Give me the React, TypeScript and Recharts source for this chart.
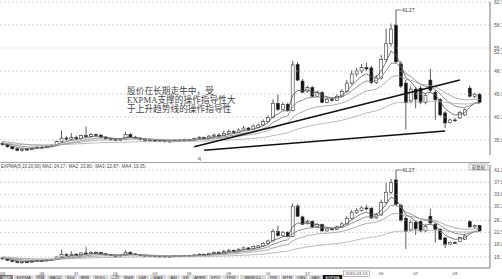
import React from 'react';
import { ComposedChart, Bar, Line, XAxis, YAxis, ReferenceLine, ReferenceDot } from 'recharts';

// daily candles (price units of the lower panel)
const opens = [14.9,14.6,14.2,13.8,13.5,13.7,13.6,13.9,14.1,14.0,14.3,14.5,15.2,15.9,15.7,16.0,15.8,16.4,16.2,16.6,16.5,16.1,15.8,15.6,15.5,15.7,16.6,16.1,15.9,15.6,15.4,15.5,15.3,15.4,15.2,15.3,15.5,15.4,15.6,15.5,15.8,16.0,15.9,16.3,16.5,16.4,16.8,17.2,17.0,17.5,17.9,17.6,18.0,18.5,19.2,20.0,22.8,21.6,22.6,21.4,30.5,27.2,25.2,25.9,24.2,24.9,23.0,23.6,23.4,24.2,25.1,26.8,28.6,29.2,29.9,29.8,26.9,27.8,31.5,34.6,38.3,30.6,26.8,23.3,25.6,25.8,23.0,27.4,25.0,23.5,20.9,19.0,19.5,19.9,20.5,25.8,24.2,24.6];
const highs = [15.1,14.8,14.3,14.0,13.9,13.9,14.1,14.3,14.3,14.5,14.7,15.4,17.4,16.3,16.9,16.4,16.6,18.2,16.9,16.8,16.7,16.3,16.0,15.8,15.9,17.2,16.9,16.3,16.1,15.8,15.7,15.7,15.6,15.6,15.5,15.7,15.7,15.8,15.8,16.0,16.3,16.2,16.5,16.8,16.9,17.4,17.6,17.5,17.8,18.3,18.1,18.6,18.8,19.6,20.4,23.6,24.6,23.0,22.9,31.2,31.0,27.6,26.3,26.2,25.3,25.2,23.9,24.0,24.6,25.6,27.4,29.3,29.8,30.6,30.8,30.2,28.4,32.4,37.6,38.6,41.27,31.2,27.4,26.2,26.0,26.2,24.8,29.6,25.4,23.8,21.2,19.8,19.9,21.3,21.8,26.3,24.9,24.8];
const lows = [14.4,14.0,13.6,13.3,13.2,13.4,13.5,13.8,13.8,13.9,14.2,14.4,15.0,15.4,15.5,15.6,15.6,16.0,16.0,16.2,15.9,15.6,15.4,15.3,15.3,15.6,15.9,15.7,15.4,15.2,15.2,15.1,15.1,15.0,15.0,15.1,15.2,15.2,15.3,15.4,15.6,15.7,15.8,16.1,16.2,16.3,16.6,16.8,16.9,17.3,17.4,17.5,17.8,18.3,19.0,19.8,21.3,21.4,21.1,21.2,27.2,24.8,24.9,24.0,24.0,22.8,22.8,23.1,23.3,24.0,24.9,26.5,28.1,28.8,29.2,26.6,26.6,27.5,31.0,34.0,30.6,25.8,17.6,22.8,21.8,22.6,22.6,25.0,19.5,20.2,17.9,18.8,19.1,19.7,20.3,24.0,23.8,22.8];
const closes = [14.6,14.2,13.8,13.5,13.7,13.6,13.9,14.1,14.0,14.3,14.5,15.2,15.9,15.7,16.0,15.8,16.4,16.2,16.6,16.5,16.1,15.8,15.6,15.5,15.7,16.6,16.1,15.9,15.6,15.4,15.5,15.3,15.4,15.2,15.3,15.5,15.4,15.6,15.5,15.8,16.0,15.9,16.3,16.5,16.4,16.8,17.2,17.0,17.5,17.9,17.6,18.3,18.5,19.2,20.0,22.8,21.6,22.6,21.4,30.4,27.4,25.0,25.9,24.2,24.9,23.0,23.6,23.4,24.2,25.1,26.8,28.6,29.2,29.9,29.6,26.9,27.8,31.5,34.6,37.5,31.0,26.2,22.9,25.6,23.6,23.0,24.4,25.4,23.5,20.5,18.9,19.5,19.4,21.0,21.5,24.2,24.6,23.0];

const expma5 = [14.73,14.55,14.30,14.03,13.92,13.81,13.84,13.93,13.95,14.07,14.21,14.54,14.99,15.23,15.49,15.59,15.86,15.97,16.18,16.29,16.23,16.09,15.93,15.79,15.76,16.04,16.06,16.01,15.87,15.71,15.64,15.53,15.49,15.39,15.36,15.41,15.41,15.47,15.48,15.59,15.73,15.79,15.96,16.14,16.23,16.42,16.68,16.79,17.03,17.32,17.41,17.71,17.97,18.38,18.92,20.21,20.67,21.31,21.34,24.36,25.37,25.25,25.47,25.05,25.00,24.33,24.09,23.86,23.97,24.35,25.17,26.31,27.27,28.15,28.63,28.05,27.97,29.15,30.97,33.15,32.43,30.35,27.87,27.11,25.94,24.96,24.77,24.98,24.49,23.16,21.74,20.99,20.46,20.64,20.93,22.02,22.88,22.92];
const expma10 = [14.93,14.80,14.62,14.42,14.29,14.17,14.12,14.12,14.10,14.14,14.20,14.38,14.65,14.84,15.05,15.19,15.41,15.55,15.74,15.88,15.92,15.90,15.84,15.78,15.77,15.92,15.95,15.94,15.88,15.79,15.74,15.66,15.61,15.54,15.50,15.50,15.48,15.50,15.50,15.55,15.63,15.68,15.79,15.92,16.01,16.15,16.34,16.46,16.65,16.87,17.00,17.24,17.46,17.78,18.18,19.01,19.48,20.04,20.29,22.11,23.06,23.41,23.86,23.92,24.10,23.90,23.85,23.77,23.84,24.07,24.56,25.29,25.99,26.70,27.22,27.16,27.28,28.04,29.22,30.71,30.76,29.94,28.67,28.12,27.31,26.53,26.15,26.01,25.56,24.65,23.62,22.88,22.25,22.03,21.93,22.34,22.75,22.79];
const expma20 = [15.23,15.13,15.01,14.86,14.75,14.64,14.57,14.53,14.48,14.46,14.46,14.53,14.66,14.76,14.88,14.97,15.10,15.21,15.34,15.45,15.51,15.54,15.54,15.54,15.56,15.66,15.70,15.72,15.71,15.68,15.66,15.63,15.61,15.57,15.54,15.54,15.53,15.53,15.53,15.56,15.60,15.63,15.69,15.77,15.83,15.92,16.04,16.13,16.26,16.42,16.53,16.70,16.87,17.09,17.37,17.89,18.24,18.65,18.91,20.00,20.70,21.11,21.57,21.82,22.11,22.20,22.33,22.43,22.60,22.84,23.21,23.72,24.24,24.78,25.24,25.40,25.62,26.18,26.98,27.98,28.27,28.07,27.58,27.39,27.03,26.65,26.43,26.33,26.06,25.53,24.90,24.39,23.92,23.64,23.44,23.51,23.61,23.55];
const expma60 = [14.79,14.77,14.74,14.70,14.67,14.63,14.61,14.59,14.57,14.56,14.56,14.58,14.62,14.66,14.70,14.74,14.79,14.84,14.90,14.95,14.99,15.02,15.04,15.05,15.07,15.12,15.15,15.18,15.19,15.20,15.21,15.21,15.22,15.22,15.22,15.23,15.24,15.25,15.26,15.27,15.30,15.32,15.35,15.39,15.42,15.47,15.52,15.57,15.64,15.71,15.77,15.86,15.94,16.05,16.18,16.40,16.57,16.77,16.92,17.37,17.70,17.94,18.20,18.40,18.61,18.76,18.92,19.07,19.24,19.43,19.67,19.97,20.27,20.59,20.89,21.09,21.31,21.65,22.08,22.59,22.87,22.98,22.98,23.07,23.09,23.08,23.13,23.20,23.21,23.12,22.98,22.87,22.75,22.70,22.66,22.71,22.77,22.78];

// axis ticks
const upperTicks = [42.86, 38.3, 33.75, 32.96, 29.2, 24.64, 20.09, 15.54];
const upperTickLabels = ['62.93', '58.70', '55.48', '52.18', '48.73', '45.00', '40.26', '35.82'];
const upperGrid = [42.86, 38.3, 33.75, 29.2, 24.64, 20.09, 15.54];
const lowerTicks = [41.27, 37.57, 33.87, 30.26, 26.18, 22.58, 18.88, 15.18];
const monthTicks = [0, 8, 15, 23, 31, 38, 46, 54, 62, 72, 77, 84, 92];
const monthLabels = ['08', '09', '11', '01', '03', '05', '08', '10', '12', '2015-03-13', '05', '07', '09'];

const peakIndex = 80;
const peakValue = 41.27;
const trendUp = [{ x: 39, y: 14.2 }, { x: 93, y: 27.4 }];
const trendLow = [{ x: 41, y: 13.5 }, { x: 90, y: 17.3 }];

const note = ['股价在长期走牛中，受', 'EXPMA支撑的操作指导性大', '于上升趋势线的操作指导性'];
const legendText = 'EXPMA(5,10,20,60) MA1: 24.17↑  MA2: 23.80↑  MA3: 22.87↑  MA4: 19.35↑';
const tabs = ['SAR', 'EXPMA', '均线', 'MACD', 'KDJ', 'BRB', 'ROLL', '二升', 'W&R', 'DMI', 'BIAS', 'ASI', 'VR', 'ARBR', 'DPO', 'TRIX', 'BBIBOLL', 'RSI', 'MTM', 'OBV', 'SAR', 'EXPMA'];

const data = closes.map((c, i) => ({
  i,
  o: opens[i],
  h: highs[i],
  l: lows[i],
  c,
  range: [lows[i], highs[i]],
  e5: expma5[i],
  e10: expma10[i],
  e20: expma20[i],
  e60: expma60[i],
}));

const Candle = (props: any) => {
  const { x, y, width, height, payload } = props;
  const { o, c, h, l } = payload;
  const cx = x + width / 2;
  const span = h - l || 1;
  const py = (v: number) => y + ((h - v) / span) * height;
  const top = Math.min(py(o), py(c));
  const bot = Math.max(py(o), py(c));
  const up = c >= o;
  return (
    <g>
      <line x1={cx} x2={cx} y1={py(h)} y2={py(l)} stroke="#333" strokeWidth={0.8} />
      <rect x={cx - 1.5} y={top} width={3} height={Math.max(bot - top, 0.8)} fill={up ? '#fff' : '#111'} stroke="#333" strokeWidth={0.6} />
    </g>
  );
};

const lineColors = ['#555', '#777', '#999', '#aaa'];
const lineKeys = ['e5', 'e10', 'e20', 'e60'];

const PeakMark = (props: any) => {
  const { cx, cy } = props;
  return (
    <g>
      <line x1={cx} x2={cx + 5} y1={cy} y2={cy} stroke="#333" strokeWidth={0.6} />
      <text x={cx + 6} y={cy + 1.8} fontSize={5} fill="#333" fontFamily="Arial, sans-serif">{peakValue.toFixed(2)}</text>
    </g>
  );
};

const MonthTick = (props: any) => {
  const { x, y, payload } = props;
  const label = monthLabels[monthTicks.indexOf(payload.value)];
  const boxed = label && label.length > 4;
  return (
    <g>
      {boxed && <rect x={x - 13} y={y + 1} width={26} height={5.5} fill="#fff" stroke="#777" strokeWidth={0.5} />}
      <text x={x} y={y + 4.9} textAnchor="middle" fontSize={4.2} fill="#444" fontFamily="Arial, sans-serif">{label}</text>
    </g>
  );
};

const tickStyle = { fontSize: 5, fill: '#555', fontFamily: 'Arial, sans-serif' };

function Overlay() {
  let cursor = 0;
  const tabItems = tabs.map((t, k) => {
    const w = Array.from(t).reduce((s, ch) => s + (ch.charCodeAt(0) > 255 ? 4.4 : 3.3), 0) + 3;
    const x0 = cursor;
    cursor += w + 1;
    const dark = k === tabs.length - 1;
    const mid = k === 0;
    return (
      <g key={k}>
        <rect x={x0} y={275} width={w} height={6} fill={dark ? '#111' : mid ? '#777' : '#d6d6d6'} />
        <text x={x0 + w / 2} y={279.2} textAnchor="middle" fontSize={4} fill={dark || mid ? '#fff' : '#333'} fontFamily="Arial, 'Noto Sans CJK SC', sans-serif">{t}</text>
      </g>
    );
  });
  return (
    <svg width={502} height={279} style={{ position: 'absolute', left: 0, top: 0, pointerEvents: 'none' }}>
      <line x1={0} x2={490} y1={162.5} y2={162.5} stroke="#888" strokeWidth={0.8} />
      <text x={1} y={167.5} fontSize={4.5} fill="#444" fontFamily="Arial, sans-serif">{legendText}</text>
      <rect x={469} y={164} width={19} height={6} fill="#f4f4f4" stroke="#888" strokeWidth={0.5} />
      <text x={478.5} y={168.5} textAnchor="middle" fontSize={4.5} fill="#333" fontFamily="'Noto Sans CJK SC', sans-serif">前复权</text>
      <text x={198} y={160} fontSize={5} fill="#333" fontFamily="Arial, sans-serif">q</text>
      {note.map((line, k) => (
        <text key={k} x={127} y={93.5 + k * 9.4} fontSize={8.7} fill="#444" fontFamily="'Liberation Serif', 'Noto Sans CJK SC', serif">{line}</text>
      ))}
      {tabItems}
    </svg>
  );
}

export default function App() {
  return (
    <div style={{ position: 'absolute', left: 0, top: 0, width: 502, height: 279, background: '#fff', overflow: 'hidden' }}>
      <div style={{ position: 'absolute', left: 0, top: 0 }}>
        <ComposedChart width={502} height={157} data={data} margin={{ top: 2, right: 0, bottom: 2, left: 0 }}>
          <XAxis dataKey="i" type="category" hide padding={{ left: 0, right: 8 }} />
          <YAxis
            orientation="right"
            width={12}
            domain={[12.56, 42.86]}
            allowDataOverflow
            ticks={upperTicks}
            interval={0}
            tickFormatter={(v: number) => upperTickLabels[upperTicks.indexOf(v)]}
            tick={tickStyle}
            tickLine={false}
            tickSize={2}
            axisLine={{ stroke: '#555', strokeWidth: 0.8 }}
          />
          {upperGrid.map((v) => (
            <ReferenceLine key={v} y={v} stroke="#bbb" strokeDasharray="2 2" strokeWidth={0.6} />
          ))}
          {lineKeys.map((k, n) => (
            <Line key={k} dataKey={k} dot={false} stroke={lineColors[n]} strokeWidth={0.8} isAnimationActive={false} />
          ))}
          <Bar dataKey="range" barSize={3} shape={<Candle />} isAnimationActive={false} />
          <ReferenceLine segment={trendUp} stroke="#111" strokeWidth={1.6} />
          <ReferenceLine segment={trendLow} stroke="#111" strokeWidth={1.4} />
          <ReferenceDot x={peakIndex} y={peakValue} r={0} shape={<PeakMark />} />
        </ComposedChart>
      </div>
      <div style={{ position: 'absolute', left: 0, top: 160 }}>
        <ComposedChart width={502} height={120} data={data} margin={{ top: 5, right: 0, bottom: 0, left: 0 }}>
          <XAxis
            dataKey="i"
            type="category"
            height={12}
            padding={{ left: 0, right: 8 }}
            ticks={monthTicks}
            interval={0}
            tick={<MonthTick />}
            tickLine={false}
            tickSize={0}
            axisLine={{ stroke: '#555', strokeWidth: 0.8 }}
          />
          <YAxis
            orientation="right"
            width={12}
            domain={[11.88, 42.77]}
            allowDataOverflow
            ticks={lowerTicks}
            interval={0}
            tickFormatter={(v: number) => v.toFixed(2)}
            tick={tickStyle}
            tickLine={false}
            tickSize={2}
            axisLine={{ stroke: '#555', strokeWidth: 0.8 }}
          />
          {lowerTicks.map((v) => (
            <ReferenceLine key={v} y={v} stroke="#bbb" strokeDasharray="2 2" strokeWidth={0.6} />
          ))}
          {lineKeys.map((k, n) => (
            <Line key={k} dataKey={k} dot={false} stroke={lineColors[n]} strokeWidth={0.8} isAnimationActive={false} />
          ))}
          <Bar dataKey="range" barSize={3} shape={<Candle />} isAnimationActive={false} />
          <ReferenceDot x={peakIndex} y={peakValue} r={0} shape={<PeakMark />} />
        </ComposedChart>
      </div>
      <Overlay />
    </div>
  );
}
